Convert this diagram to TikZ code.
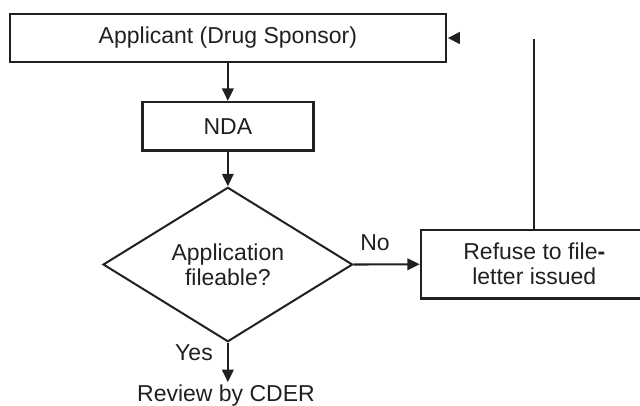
\documentclass[tikz,border=0pt]{standalone}
\usepackage{fontspec}
\setmainfont{Liberation Sans}
\usetikzlibrary{shapes.geometric,arrows.meta}
\definecolor{ink}{HTML}{231F20}
\begin{document}
\begin{tikzpicture}[x=1pt,y=-1pt,
  every node/.style={font=\fontsize{23}{25}\selectfont, text=ink},
  box/.style={draw=ink, line width=2.3pt, inner sep=0pt, align=center},
  decision/.style={diamond, draw=ink, line width=2pt, inner sep=0pt, align=center,
    minimum width=249.6pt, minimum height=145.6pt},
  flow/.style={draw=ink, line width=2.1pt, -{Triangle[length=12.5pt,width=11.5pt]}},
  plain/.style={draw=ink, line width=2.1pt},
  lbl/.style={inner sep=0pt}]
\useasboundingbox (0,0) rectangle (640,405);
\clip (0,0) rectangle (640,405);

% process boxes and the decision
\node[box, minimum width=435.7pt, minimum height=48pt] (app) at (227.85,38) {Applicant (Drug Sponsor)};
\node[box, minimum width=171pt, minimum height=48.3pt] (nda) at (227.85,126.2) {NDA};
\node[decision] (fileable) at (227.85,264.5) {Application\\fileable?};
\node[box, minimum width=226.6pt, minimum height=68.5pt] (refuse) at (534.3,264.25) {Refuse to file\textbf{-}\\letter issued};
\node[lbl, anchor=base] (review) at (226,401) {Review by CDER};

% edge labels
\node[lbl] (no) at (375,243) {No};
\node[lbl] (yes) at (194,352.5) {Yes};

% connectors
\draw[flow] (app.south) -- (nda.north);
\draw[flow] (nda.south) -- (fileable.north);
\draw[flow] (fileable.east) -- (refuse.west);
\draw[flow, shorten >=2pt] (fileable.south) -- (fileable.south |- review.north);

% return path from the refusal back to the applicant
\coordinate (loopTop) at (534.3,39);
\draw[plain] (refuse.north) -- (loopTop);
\fill[ink] (app.east) ++(1.1,0) -- ++(12,-6.2) -- ++(0,12.4) -- cycle;
\end{tikzpicture}
\end{document}
